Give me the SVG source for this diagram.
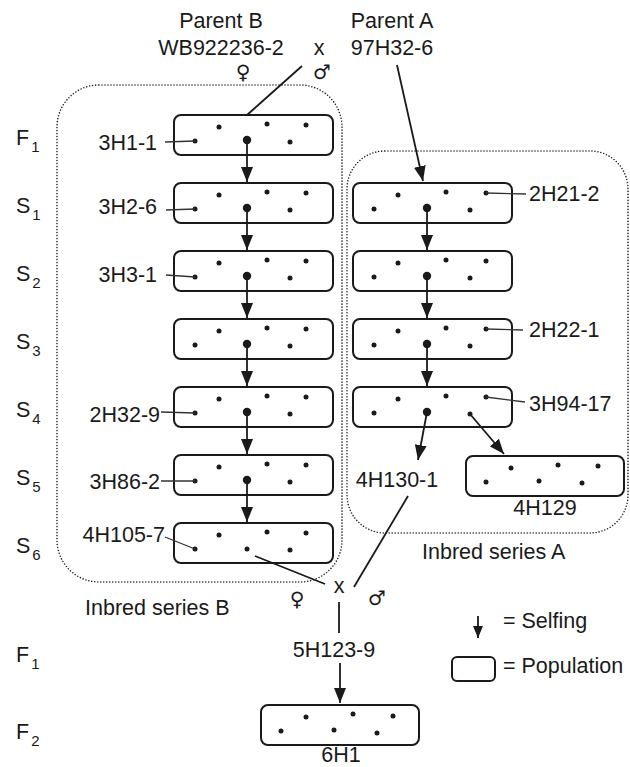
<svg xmlns="http://www.w3.org/2000/svg" width="630" height="767" viewBox="0 0 630 767">
<style>
text{font-family:"Liberation Sans",Arial,sans-serif;font-size:21.5px;fill:#1a1a1a}
.sym{font-family:"DejaVu Sans",sans-serif;font-size:20px}
.box{fill:#fff;stroke:#1a1a1a;stroke-width:2}
.d{fill:#1a1a1a}
.ln{stroke:#1a1a1a;stroke-width:1.8;fill:none}
.ld{stroke:#333;stroke-width:1.3;fill:none}
.dot{fill:none;stroke:#222;stroke-width:1.6;stroke-dasharray:0 3;stroke-linecap:round}
.sub{font-size:15px}
</style>
<defs>
<marker id="ah" markerUnits="userSpaceOnUse" markerWidth="15" markerHeight="12" refX="15" refY="6" orient="auto" viewBox="0 0 15 12">
<path d="M0,0 L15,6 L0,12 z" fill="#1a1a1a"/>
</marker>
<marker id="ahs" markerUnits="userSpaceOnUse" markerWidth="12" markerHeight="10" refX="12" refY="5" orient="auto" viewBox="0 0 12 10">
<path d="M0,0 L12,5 L0,10 z" fill="#1a1a1a"/>
</marker>
</defs>

<g id="outlines">
<rect class="dot" x="57" y="85" width="285" height="497" rx="42"/>
<rect class="dot" x="347" y="151" width="281" height="382" rx="38"/>
</g>

<g id="row-labels">
<text x="16" y="145">F<tspan class="sub" dx="2" dy="7">1</tspan></text>
<text x="16" y="213">S<tspan class="sub" dx="2" dy="7">1</tspan></text>
<text x="16" y="281">S<tspan class="sub" dx="2" dy="7">2</tspan></text>
<text x="16" y="349">S<tspan class="sub" dx="2" dy="7">3</tspan></text>
<text x="16" y="417">S<tspan class="sub" dx="2" dy="7">4</tspan></text>
<text x="16" y="485">S<tspan class="sub" dx="2" dy="7">5</tspan></text>
<text x="16" y="553">S<tspan class="sub" dx="2" dy="7">6</tspan></text>
<text x="16" y="662">F<tspan class="sub" dx="2" dy="7">1</tspan></text>
<text x="16" y="739">F<tspan class="sub" dx="2" dy="7">2</tspan></text>
</g>

<g id="parents">
<text x="221" y="28" text-anchor="middle">Parent B</text>
<text x="221" y="55" text-anchor="middle">WB922236-2</text>
<text x="319" y="55" text-anchor="middle">x</text>
<text x="392" y="28" text-anchor="middle">Parent A</text>
<text x="392" y="55" text-anchor="middle">97H32-6</text>
<text class="sym" x="243" y="79" text-anchor="middle">♀</text>
<text class="sym" x="322" y="79" text-anchor="middle">♂</text>
</g>

<g id="B-F1">
<rect class="box" x="174" y="115" width="159" height="40" rx="7"/>
<circle class="d" cx="195" cy="141" r="2.5"/><circle class="d" cx="219" cy="127" r="2.5"/><circle class="d" cx="267" cy="124" r="2.5"/><circle class="d" cx="306" cy="125" r="2.5"/><circle class="d" cx="290" cy="142" r="2.5"/><circle class="d" cx="247" cy="140" r="4.2"/>
<text x="157" y="150" text-anchor="end">3H1-1</text>
</g>
<g id="B-S1">
<rect class="box" x="174" y="183" width="159" height="40" rx="7"/>
<circle class="d" cx="195" cy="209" r="2.5"/><circle class="d" cx="219" cy="195" r="2.5"/><circle class="d" cx="267" cy="192" r="2.5"/><circle class="d" cx="306" cy="193" r="2.5"/><circle class="d" cx="290" cy="210" r="2.5"/><circle class="d" cx="247" cy="208" r="4.2"/>
<text x="157" y="214" text-anchor="end">3H2-6</text>
</g>
<g id="B-S2">
<rect class="box" x="174" y="251" width="159" height="40" rx="7"/>
<circle class="d" cx="195" cy="277" r="2.5"/><circle class="d" cx="219" cy="263" r="2.5"/><circle class="d" cx="267" cy="260" r="2.5"/><circle class="d" cx="306" cy="261" r="2.5"/><circle class="d" cx="290" cy="278" r="2.5"/><circle class="d" cx="247" cy="276" r="4.2"/>
<text x="157" y="282" text-anchor="end">3H3-1</text>
</g>
<g id="B-S3">
<rect class="box" x="174" y="319" width="159" height="40" rx="7"/>
<circle class="d" cx="195" cy="345" r="2.5"/><circle class="d" cx="219" cy="331" r="2.5"/><circle class="d" cx="267" cy="328" r="2.5"/><circle class="d" cx="306" cy="329" r="2.5"/><circle class="d" cx="290" cy="346" r="2.5"/><circle class="d" cx="247" cy="344" r="4.2"/>
</g>
<g id="B-S4">
<rect class="box" x="174" y="387" width="159" height="40" rx="7"/>
<circle class="d" cx="195" cy="413" r="2.5"/><circle class="d" cx="219" cy="399" r="2.5"/><circle class="d" cx="267" cy="396" r="2.5"/><circle class="d" cx="306" cy="397" r="2.5"/><circle class="d" cx="290" cy="414" r="2.5"/><circle class="d" cx="247" cy="412" r="4.2"/>
<text x="160" y="422" text-anchor="end">2H32-9</text>
</g>
<g id="B-S5">
<rect class="box" x="174" y="455" width="159" height="40" rx="7"/>
<circle class="d" cx="195" cy="481" r="2.5"/><circle class="d" cx="219" cy="467" r="2.5"/><circle class="d" cx="267" cy="464" r="2.5"/><circle class="d" cx="306" cy="465" r="2.5"/><circle class="d" cx="290" cy="482" r="2.5"/><circle class="d" cx="247" cy="480" r="4.2"/>
<text x="160" y="489" text-anchor="end">3H86-2</text>
</g>
<g id="B-S6">
<rect class="box" x="174" y="523" width="159" height="40" rx="7"/>
<circle class="d" cx="195" cy="549" r="2.5"/><circle class="d" cx="219" cy="535" r="2.5"/><circle class="d" cx="267" cy="532" r="2.5"/><circle class="d" cx="306" cy="533" r="2.5"/><circle class="d" cx="290" cy="550" r="2.5"/><circle class="d" cx="247" cy="549" r="2.5"/>
<text x="165" y="542" text-anchor="end">4H105-7</text>
</g>

<g id="A-S1">
<rect class="box" x="353" y="183" width="159" height="40" rx="7"/>
<circle class="d" cx="374" cy="209" r="2.5"/><circle class="d" cx="398" cy="195" r="2.5"/><circle class="d" cx="446" cy="192" r="2.5"/><circle class="d" cx="486" cy="193" r="2.5"/><circle class="d" cx="470" cy="210" r="2.5"/><circle class="d" cx="427" cy="208" r="4.2"/>
<text x="529" y="201">2H21-2</text>
</g>
<g id="A-S2">
<rect class="box" x="353" y="251" width="159" height="40" rx="7"/>
<circle class="d" cx="374" cy="277" r="2.5"/><circle class="d" cx="398" cy="263" r="2.5"/><circle class="d" cx="446" cy="260" r="2.5"/><circle class="d" cx="486" cy="261" r="2.5"/><circle class="d" cx="470" cy="278" r="2.5"/><circle class="d" cx="427" cy="276" r="4.2"/>
</g>
<g id="A-S3">
<rect class="box" x="353" y="319" width="159" height="40" rx="7"/>
<circle class="d" cx="374" cy="345" r="2.5"/><circle class="d" cx="398" cy="331" r="2.5"/><circle class="d" cx="446" cy="328" r="2.5"/><circle class="d" cx="486" cy="329" r="2.5"/><circle class="d" cx="470" cy="346" r="2.5"/><circle class="d" cx="427" cy="344" r="4.2"/>
<text x="529" y="337">2H22-1</text>
</g>
<g id="A-S4">
<rect class="box" x="353" y="387" width="159" height="40" rx="7"/>
<circle class="d" cx="374" cy="413" r="2.5"/><circle class="d" cx="398" cy="399" r="2.5"/><circle class="d" cx="446" cy="396" r="2.5"/><circle class="d" cx="486" cy="397" r="2.5"/><circle class="d" cx="470" cy="414" r="2.5"/><circle class="d" cx="427" cy="412" r="4.2"/>
<text x="529" y="411">3H94-17</text>
</g>
<g id="A-S5-4H130-1">
<text x="397" y="487" text-anchor="middle">4H130-1</text>
</g>
<g id="A-S5-4H129">
<rect class="box" x="466" y="456" width="158" height="40" rx="7"/>
<circle class="d" cx="486" cy="482" r="2.5"/><circle class="d" cx="511" cy="468" r="2.5"/><circle class="d" cx="558" cy="465" r="2.5"/><circle class="d" cx="598" cy="466" r="2.5"/><circle class="d" cx="539" cy="481" r="2.5"/><circle class="d" cx="582" cy="483" r="2.5"/>
<text x="545" y="515" text-anchor="middle">4H129</text>
</g>

<g id="cross2">
<text x="339" y="593" text-anchor="middle">x</text>
<text class="sym" x="297" y="606" text-anchor="middle">♀</text>
<text class="sym" x="377" y="605" text-anchor="middle">♂</text>
</g>
<g id="F1-5H123-9">
<text x="334" y="657" text-anchor="middle">5H123-9</text>
</g>
<g id="F2-6H1">
<rect class="box" x="261" y="705" width="158" height="40" rx="7"/>
<circle class="d" cx="281" cy="731" r="2.5"/><circle class="d" cx="306" cy="717" r="2.5"/><circle class="d" cx="353" cy="714" r="2.5"/><circle class="d" cx="393" cy="716" r="2.5"/><circle class="d" cx="334" cy="730" r="2.5"/><circle class="d" cx="377" cy="733" r="2.5"/>
<text x="341" y="762" text-anchor="middle">6H1</text>
</g>

<g id="series-labels">
<text x="85" y="615">Inbred series B</text>
<text x="422" y="559">Inbred series A</text>
</g>

<g id="legend">
<line class="ln" x1="478" y1="616" x2="478" y2="638" marker-end="url(#ahs)"/>
<text x="503" y="628">= Selfing</text>
<rect class="box" x="452" y="657" width="43" height="24" rx="5"/>
<text x="503" y="673">= Population</text>
</g>

<g id="connectors">
<line class="ln" x1="302" y1="66" x2="247" y2="115"/>
<line class="ln" x1="397" y1="65" x2="423" y2="181" marker-end="url(#ah)"/>
<line class="ln" x1="247" y1="140" x2="247" y2="182" marker-end="url(#ah)"/>
<line class="ln" x1="247" y1="208" x2="247" y2="250" marker-end="url(#ah)"/>
<line class="ln" x1="247" y1="276" x2="247" y2="318" marker-end="url(#ah)"/>
<line class="ln" x1="247" y1="344" x2="247" y2="386" marker-end="url(#ah)"/>
<line class="ln" x1="247" y1="412" x2="247" y2="454" marker-end="url(#ah)"/>
<line class="ln" x1="247" y1="480" x2="247" y2="522" marker-end="url(#ah)"/>
<line class="ln" x1="427" y1="208" x2="427" y2="250" marker-end="url(#ah)"/>
<line class="ln" x1="427" y1="276" x2="427" y2="318" marker-end="url(#ah)"/>
<line class="ln" x1="427" y1="344" x2="427" y2="386" marker-end="url(#ah)"/>
<line class="ln" x1="427" y1="412" x2="418" y2="460" marker-end="url(#ah)"/>
<line class="ln" x1="470" y1="414" x2="504" y2="454" marker-end="url(#ah)"/>
<line class="ln" x1="255" y1="556" x2="325" y2="584"/>
<line class="ln" x1="408" y1="496" x2="354" y2="587"/>
<line class="ln" x1="339" y1="602" x2="339" y2="633"/>
<line class="ln" x1="340" y1="663" x2="340" y2="703" marker-end="url(#ah)"/>
<line class="ld" x1="165" y1="142" x2="195" y2="141"/>
<line class="ld" x1="166" y1="210" x2="195" y2="209"/>
<line class="ld" x1="166" y1="275" x2="195" y2="277"/>
<line class="ld" x1="161" y1="412" x2="195" y2="413"/>
<line class="ld" x1="161" y1="481" x2="195" y2="481"/>
<line class="ld" x1="165" y1="537" x2="195" y2="549"/>
<line class="ld" x1="486" y1="193" x2="526" y2="194"/>
<line class="ld" x1="486" y1="329" x2="523" y2="330"/>
<line class="ld" x1="486" y1="397" x2="525" y2="402"/>
</g>
</svg>
